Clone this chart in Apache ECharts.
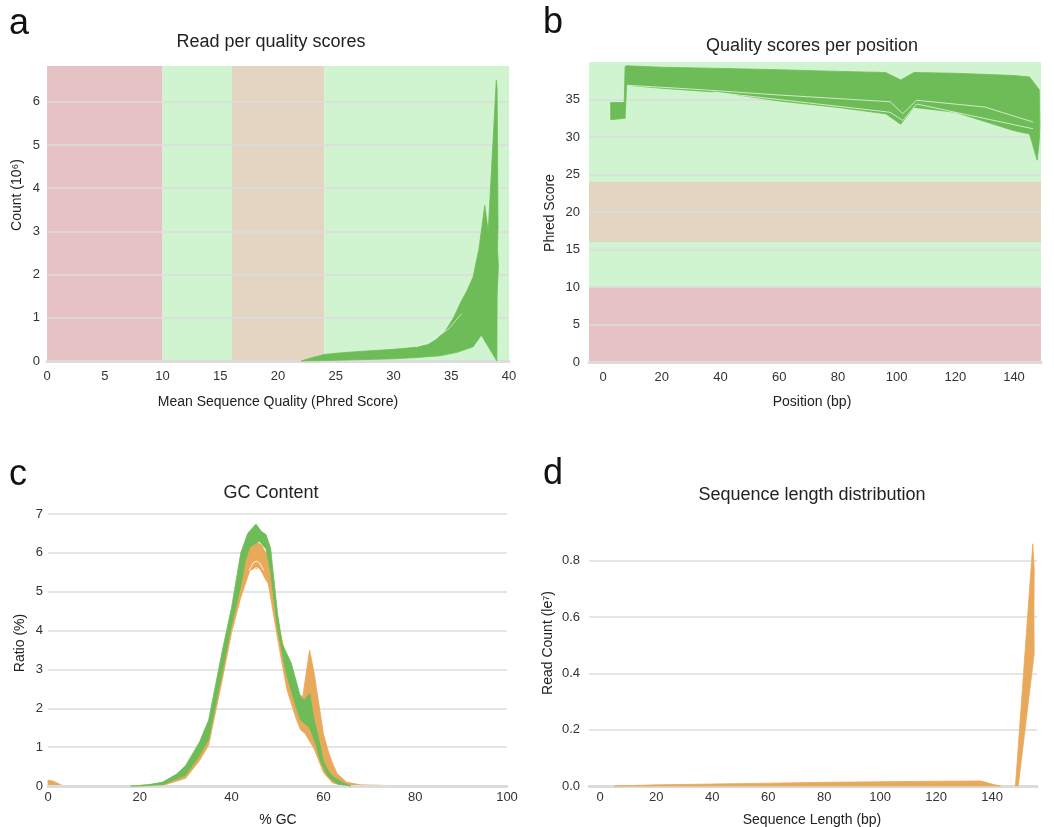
<!DOCTYPE html>
<html>
<head>
<meta charset="utf-8">
<script src="https://cdn.jsdelivr.net/npm/echarts@6/dist/echarts.min.js"></script>
<style>
  html, body { margin: 0; padding: 0; background: #fff; }
  #main { width: 1054px; height: 827px; }
</style>
</head>
<body>
<div id="main"></div>
<script>
// ---- data ----
// a: read per quality scores (outline of the bundle of sample curves)
const qualOutlineX = [22, 23, 24, 25, 27, 30, 32, 33, 33.7, 34.5, 35.2, 35.8, 36.4, 36.9, 37.4, 37.9, 38.2, 38.9, 38.97, 39.05, 39.0, 39.08, 38.97, 38.95, 37.6, 36.9, 35.5, 34, 32, 30, 27, 24, 22]
const qualOutlineY = [0, 0.08, 0.15, 0.18, 0.22, 0.27, 0.32, 0.38, 0.5, 0.7, 1.0, 1.35, 1.65, 1.95, 2.6, 3.6, 3.0, 6.5, 6.3, 3.1, 2.6, 2.2, 1.5, 0, 0.6, 0.33, 0.2, 0.12, 0.08, 0.05, 0.03, 0.01, 0]
const qualGapX = [32.0, 33.5, 34.8, 35.9]
const qualGapY = [0.33, 0.5, 0.75, 1.1]
const qualBandFrom = [0, 10, 16, 24]
const qualBandTo = [10, 16, 24, 40]

// b: quality scores per position
const posOutlineX = [2.6, 7.2, 7.5, 8, 20, 40, 60, 80, 96.3, 101.4, 105.9, 120, 140, 145.3, 148.6, 148.8, 148.6, 147.9, 145.3, 140, 120, 105.9, 101.4, 96.3, 80, 60, 40, 20, 8, 7.5, 7.2, 2.6]
const posOutlineY = [34.6, 34.6, 39.4, 39.5, 39.3, 39.15, 38.97, 38.75, 38.6, 37.6, 38.6, 38.5, 38.2, 38.0, 36.3, 31.5, 29.5, 26.9, 30.4, 30.85, 33.3, 33.95, 31.7, 33.1, 33.95, 34.8, 35.95, 36.5, 36.9, 32.5, 32.5, 32.3]
const posGap1X = [8.1, 30, 60, 97.8, 102.1, 106.8, 130, 146.5]
const posGap1Y = [36.9, 36.4, 35.6, 34.7, 33.1, 34.9, 34.0, 32.0]
const posGap2X = [37.5, 97.8, 102.1, 106.8, 146.5]
const posGap2Y = [36.0, 33.3, 32.2, 34.4, 31.1]
const posBandFrom = [0, 10, 16, 24]
const posBandTo = [10, 16, 24, 40]

// c: GC content
const gcOrangeX = [19, 25, 30, 35, 38, 40, 42, 44, 45.3, 46.5, 48, 50, 52, 54, 55.5, 57, 58, 59, 60, 61, 62, 63, 65, 68, 72, 78,
                   65, 62, 60, 58, 56, 55, 54, 52, 50, 48, 46, 45.3, 44, 42, 40, 38, 35, 33, 30, 25]
const gcOrangeY = [0, 0.08, 0.45, 1.5, 3.3, 4.4, 5.6, 6.2, 6.3, 6.2, 5.9, 4.3, 3.2, 2.4, 2.3, 3.5, 2.9, 2.12, 1.35, 0.92, 0.58, 0.32, 0.1, 0.03, 0.02, 0,
                   0, 0.08, 0.35, 0.95, 1.35, 1.45, 1.75, 2.5, 3.8, 5.2, 5.6, 5.6, 5.55, 4.85, 3.95, 2.75, 1.05, 0.65, 0.2, 0.01]
const gcOrangeLowX = [0, 0, 1, 2, 3, 4]
const gcOrangeLowY = [0, 0.15, 0.13, 0.08, 0.02, 0]
const gcGreenX = [18, 22, 25, 28, 30, 33, 35, 38, 40, 42, 43.5, 45.3, 46.5, 47.5, 48.5, 50, 51, 53, 55, 55.8, 57, 58, 59, 60, 61, 62, 64, 66,
                  63, 61, 59.5, 58, 57, 56, 55, 54, 52, 50, 48.5, 47.5, 46, 45.3, 44, 43, 42, 40, 38, 35, 33, 30, 25, 20]
const gcGreenY = [0, 0.03, 0.1, 0.3, 0.53, 1.13, 1.7, 3.5, 4.6, 6.0, 6.5, 6.74, 6.55, 6.47, 6.12, 4.45, 3.67, 3.16, 2.3, 2.2, 2.38, 1.7, 1.2, 0.65, 0.4, 0.25, 0.1, 0,
                  0.05, 0.25, 0.6, 1.2, 1.5, 1.6, 1.7, 2.05, 2.85, 4.05, 5.5, 6.1, 6.3, 6.25, 6.15, 5.8, 5.15, 4.15, 2.95, 1.2, 0.78, 0.28, 0.03, 0]
const gcGap1X = [43.8, 44.7, 45.4, 46.1, 47.0]
const gcGap1Y = [5.55, 5.74, 5.79, 5.74, 5.55]
const gcGap2X = [44.0, 44.8, 45.4, 46.0, 46.8]
const gcGap2Y = [5.42, 5.58, 5.62, 5.58, 5.42]

// d: sequence length distribution
const lenLowX = [5, 20, 40, 60, 80, 100, 120, 136, 138, 141, 143]
const lenLowY = [0, 0.004, 0.007, 0.01, 0.013, 0.015, 0.017, 0.018, 0.012, 0.004, 0]
const lenSpikeX = [148.3, 154.5, 155.0, 154.9, 155.0, 149.3]
const lenSpikeY = [0, 0.86, 0.77, 0.6, 0.47, 0]

const bandColors = ['#e6c2c5', '#cff4cf', '#e3d5c2', '#cff4cf']
const GREEN = '#6dbc57'
const ORANGE = '#e9a95b'
const FONT = '"Liberation Sans", Arial, sans-serif'

const chart = echarts.init(document.getElementById('main'))

// draw an outline as a filled polygon through the axes
function polygonSeries(idx, xs, ys, color, z) {
  return {
    type: 'custom', xAxisIndex: idx, yAxisIndex: idx, z, silent: true,
    data: [[xs[0], ys[0]]],
    renderItem: (params, api) => ({
      type: 'polygon',
      shape: { points: xs.map((x, i) => api.coord([x, ys[i]])) },
      style: { fill: color, stroke: color, lineWidth: 0.8 }
    })
  }
}

function lineSeries(idx, xs, ys, color, width, z) {
  return {
    type: 'line', xAxisIndex: idx, yAxisIndex: idx, z, silent: true,
    symbol: 'none', data: xs.map((x, i) => [x, ys[i]]),
    lineStyle: { color, width, opacity: 0.85 }
  }
}

// quality bands: vertical in a, horizontal in b
function bandSeries(idx, from, to, vertical, otherMin, otherMax) {
  return {
    type: 'custom', xAxisIndex: idx, yAxisIndex: idx, z: 1, silent: true,
    data: from.map((s, i) => [s, to[i], i]),
    renderItem: (params, api) => {
      let p0, p1
      if (vertical) {
        p0 = api.coord([api.value(0), otherMax]); p1 = api.coord([api.value(1), otherMin])
      } else {
        p0 = api.coord([otherMin, api.value(1)]); p1 = api.coord([otherMax, api.value(0)])
      }
      return {
        type: 'rect',
        shape: { x: p0[0], y: p0[1], width: p1[0] - p0[0], height: p1[1] - p0[1] },
        style: { fill: bandColors[api.value(2)] }
      }
    }
  }
}

const labelStyle = { color: '#333', fontSize: 13, fontFamily: FONT }
const gridLine = { show: true, showMinLine: false, lineStyle: { color: '#dcdcdc', width: 1.5 } }
const baseLine = { show: true, lineStyle: { color: '#dcdcdc', width: 3 } }

function xAxis(idx, min, max, extra) {
  return Object.assign({
    gridIndex: idx, type: 'value', min, max, z: 4,
    axisLine: baseLine, axisTick: { show: false }, splitLine: { show: false },
    axisLabel: Object.assign({ margin: 9 }, labelStyle)
  }, extra)
}
function yAxis(idx, min, max, interval, extra) {
  return Object.assign({
    gridIndex: idx, type: 'value', min, max, interval, z: 2,
    axisLine: { show: false }, axisTick: { show: false },
    splitLine: Object.assign({ showMaxLine: false }, gridLine),
    axisLabel: Object.assign({ margin: 7, showMaxLabel: false }, labelStyle)
  }, extra)
}

function text(x, y, str, size, rotate) {
  return {
    type: 'text', x, y, rotation: rotate ? Math.PI / 2 : 0, silent: true,
    style: { text: str, font: size + 'px ' + FONT, fill: '#222', align: 'center', verticalAlign: 'middle' }
  }
}
function letter(x, y, str) {
  return {
    type: 'text', x, y, silent: true,
    style: { text: str, font: '36px ' + FONT, fill: '#111', align: 'left', verticalAlign: 'middle' }
  }
}

const posTicks = [0, 20, 40, 60, 80, 100, 120, 140]

const option = {
  animation: false,
  backgroundColor: '#fff',
  grid: [
    { left: 47, top: 66, width: 462, height: 295 },
    { left: 589, top: 62, width: 452, height: 300 },
    { left: 48, top: 514, width: 459, height: 272 },
    { left: 589, top: 541, width: 448, height: 245 }
  ],
  xAxis: [
    xAxis(0, 0, 40, { interval: 5 }),
    xAxis(1, -4.8, 149.2, { axisLabel: Object.assign({ margin: 9, customValues: posTicks }, labelStyle) }),
    xAxis(2, 0, 100, { interval: 20, axisLabel: Object.assign({ margin: 5 }, labelStyle) }),
    xAxis(3, -4, 156, { axisLabel: Object.assign({ margin: 5, customValues: posTicks }, labelStyle) })
  ],
  yAxis: [
    yAxis(0, 0, 6.83, 1),
    yAxis(1, 0, 40, 5, { axisLabel: Object.assign({ margin: 9, showMaxLabel: false }, labelStyle) }),
    yAxis(2, 0, 7, 1, {
      splitLine: Object.assign({ showMaxLine: true }, gridLine),
      axisLabel: Object.assign({ margin: 5, showMaxLabel: true }, labelStyle)
    }),
    yAxis(3, 0, 0.87, 0.2, {
      axisLabel: Object.assign({ margin: 9, showMaxLabel: false, formatter: v => v.toFixed(1) }, labelStyle)
    })
  ],
  graphic: [
    letter(9, 24, 'a'), letter(543, 23, 'b'), letter(9, 475, 'c'), letter(543, 474, 'd'),
    text(271, 42, 'Read per quality scores', 18),
    text(812, 46, 'Quality scores per position', 18),
    text(271, 493, 'GC Content', 18),
    text(812, 495, 'Sequence length distribution', 18),
    text(278, 402, 'Mean Sequence Quality (Phred Score)', 14),
    text(17, 195, 'Count (10\u2076)', 14, true),
    text(812, 402, 'Position (bp)', 14),
    text(550, 213, 'Phred Score', 14, true),
    text(278, 820, '% GC', 14),
    text(20, 643, 'Ratio (%)', 14, true),
    text(812, 820, 'Sequence Length (bp)', 14),
    text(548, 643, 'Read Count (le\u2077)', 14, true)
  ],
  series: [
    bandSeries(0, qualBandFrom, qualBandTo, true, 0, 6.83),
    polygonSeries(0, qualOutlineX, qualOutlineY, GREEN, 5),
    lineSeries(0, qualGapX, qualGapY, '#e8f7e4', 0.8, 6),

    bandSeries(1, posBandFrom, posBandTo, false, -4.8, 149.2),
    polygonSeries(1, posOutlineX, posOutlineY, GREEN, 5),
    lineSeries(1, posGap1X, posGap1Y, '#ffffff', 0.8, 6),
    lineSeries(1, posGap2X, posGap2Y, '#ffffff', 0.8, 6),

    polygonSeries(2, gcOrangeX, gcOrangeY, ORANGE, 4),
    polygonSeries(2, gcOrangeLowX, gcOrangeLowY, ORANGE, 4),
    polygonSeries(2, gcGreenX, gcGreenY, GREEN, 5),
    lineSeries(2, gcGap1X, gcGap1Y, '#ffffff', 1, 6),
    lineSeries(2, gcGap2X, gcGap2Y, '#ffffff', 1, 6),

    polygonSeries(3, lenLowX, lenLowY, ORANGE, 5),
    polygonSeries(3, lenSpikeX, lenSpikeY, ORANGE, 5)
  ]
}

chart.setOption(option)
</script>
</body>
</html>
